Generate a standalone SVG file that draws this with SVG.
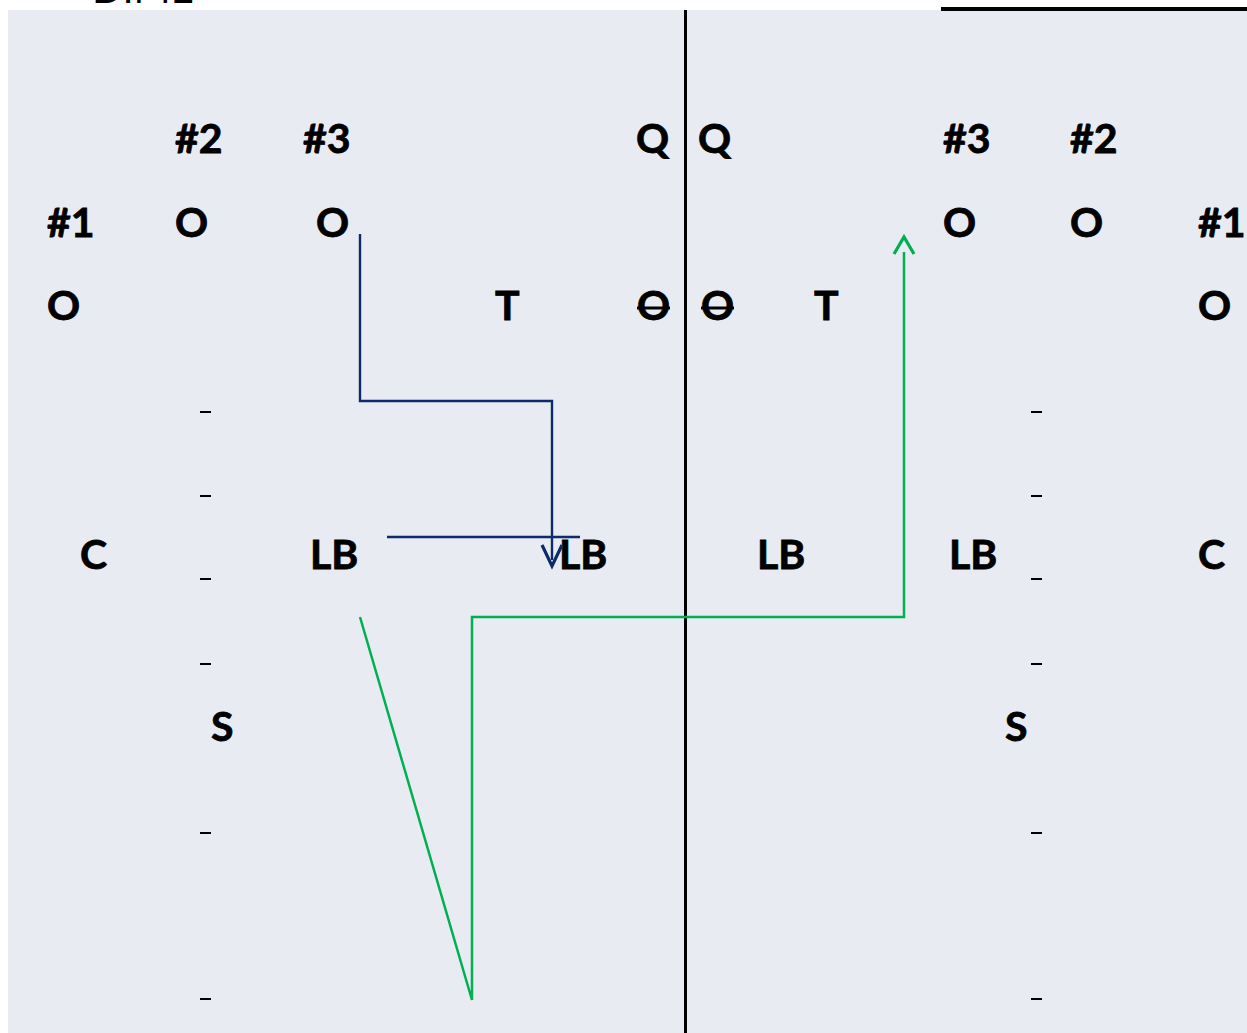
<svg xmlns="http://www.w3.org/2000/svg" width="1247" height="1033" viewBox="0 0 1247 1033">
<defs>
<style>
.t{font-family:Lato,"Liberation Sans",sans-serif;font-weight:bold;font-size:41px;fill:#000;stroke:#000;stroke-width:0.8}
.d{stroke:#000;stroke-width:2}
.blue{stroke:#0F2A6B;stroke-width:2.4;fill:none}
.green{stroke:#00B050;stroke-width:2.5;fill:none}
.head{stroke-width:3.2}
</style>
</defs>
<rect x="0" y="0" width="1247" height="1033" fill="#ffffff"/>
<text x="92" y="3" style="font-family:Lato,'Liberation Sans',sans-serif;font-size:40px;fill:#000">DIME</text>
<rect x="8" y="10" width="1239" height="1023" fill="#E9EBF3"/>
<line x1="941" y1="9" x2="1247" y2="9" stroke="#000" stroke-width="4"/>
<line x1="685.5" y1="10" x2="685.5" y2="1033" stroke="#000" stroke-width="3"/>
<g id="dashes">
<line class="d" x1="200" y1="412" x2="211" y2="412"/>
<line class="d" x1="200" y1="496" x2="211" y2="496"/>
<line class="d" x1="200" y1="579" x2="211" y2="579"/>
<line class="d" x1="200" y1="664" x2="211" y2="664"/>
<line class="d" x1="200" y1="833" x2="211" y2="833"/>
<line class="d" x1="200" y1="999" x2="211" y2="999"/>
<line class="d" x1="1031" y1="412" x2="1042" y2="412"/>
<line class="d" x1="1031" y1="496" x2="1042" y2="496"/>
<line class="d" x1="1031" y1="579" x2="1042" y2="579"/>
<line class="d" x1="1031" y1="664" x2="1042" y2="664"/>
<line class="d" x1="1031" y1="833" x2="1042" y2="833"/>
<line class="d" x1="1031" y1="999" x2="1042" y2="999"/>
</g>
<g id="n-l2"><text class="t" x="175" y="153">#2</text></g>
<g id="n-l3"><text class="t" x="303" y="153">#3</text></g>
<g id="n-lq"><text class="t" x="636" y="153">Q</text></g>
<g id="n-rq"><text class="t" x="698" y="153">Q</text></g>
<g id="n-r3"><text class="t" x="943" y="153">#3</text></g>
<g id="n-r2"><text class="t" x="1070" y="153">#2</text></g>
<g id="n-l1"><text class="t" x="47" y="237">#1</text></g>
<g id="n-lo2"><text class="t" x="175" y="237">O</text></g>
<g id="n-lo3"><text class="t" x="316" y="237">O</text></g>
<g id="n-ro3"><text class="t" x="943" y="237">O</text></g>
<g id="n-ro2"><text class="t" x="1070" y="237">O</text></g>
<g id="n-r1"><text class="t" x="1198" y="237">#1</text></g>
<g id="n-lo1"><text class="t" x="47" y="320">O</text></g>
<g id="n-lt"><text class="t" x="495" y="320">T</text></g>
<g id="n-lox"><text class="t" x="637" y="320">O</text><line x1="637" y1="308" x2="670" y2="308" stroke="#000" stroke-width="3"/></g>
<g id="n-rox"><text class="t" x="701" y="320">O</text><line x1="701" y1="308" x2="734" y2="308" stroke="#000" stroke-width="3"/></g>
<g id="n-rt"><text class="t" x="814" y="320">T</text></g>
<g id="n-ro1"><text class="t" x="1198" y="320">O</text></g>
<g id="n-lc"><text class="t" x="80" y="569">C</text></g>
<g id="n-lb1"><text class="t" x="310" y="569">LB</text></g>
<g id="n-lb2"><text class="t" x="559" y="569">LB</text></g>
<g id="n-lb3"><text class="t" x="757" y="569">LB</text></g>
<g id="n-lb4"><text class="t" x="949" y="569">LB</text></g>
<g id="n-rc"><text class="t" x="1198" y="569">C</text></g>
<g id="n-ls"><text class="t" x="211" y="741">S</text></g>
<g id="n-rs"><text class="t" x="1005" y="741">S</text></g>
<g id="connectors">
<polyline class="blue" points="360,234 360,401 552,401 552,560"/>
<polyline class="blue head" points="542,545 552,566 562,545"/>
<line class="blue" x1="387" y1="537" x2="580" y2="537"/>
<polyline class="green" points="360,617 472,1000 472,617 904,617 904,252"/>
<polyline class="green head" points="894,254 904,237 914,254"/>
</g>
</svg>
